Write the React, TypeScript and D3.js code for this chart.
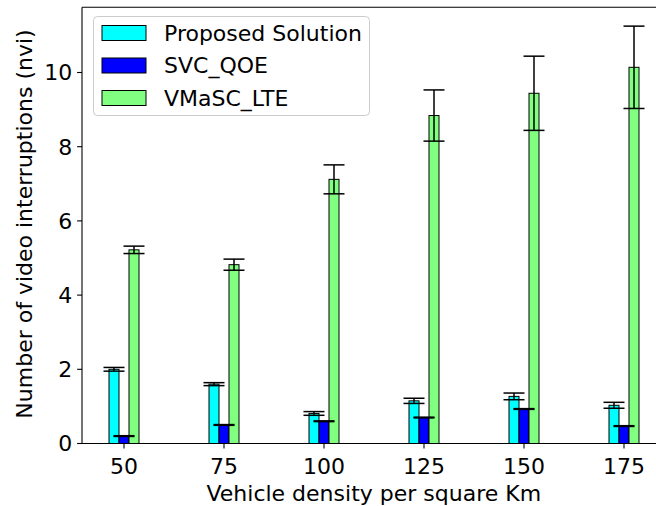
import React from "react";
import * as d3 from "d3";

const categories = [50, 75, 100, 125, 150, 175];
const seriesNames = ["Proposed Solution", "SVC_QOE", "VMaSC_LTE"];
const proposed = [2.0, 1.6, 0.81, 1.15, 1.27, 1.03];
const proposedErr = [0.05, 0.04, 0.05, 0.07, 0.09, 0.08];
const svc = [0.2, 0.5, 0.6, 0.7, 0.93, 0.47];
const svcErr = [0.01, 0.01, 0.01, 0.01, 0.01, 0.01];
const vmasc = [5.22, 4.82, 7.12, 8.84, 9.44, 10.14];
const vmascErr = [0.1, 0.15, 0.39, 0.69, 1.0, 1.11];
const yTicks = [0, 2, 4, 6, 8, 10];
const colors = ["#00ffff", "#0000ff", "#80ff80"];

const W = 656;
const H = 506;
const FONT = "DejaVu Sans, sans-serif";
const FS = 22;

export default function App() {
  const x = d3.scaleLinear().domain([39.5, 185.4]).range([82, 665.6]);
  const y = d3.scaleLinear().domain([0, 11.76]).range([443.5, 7.2]);
  const barW = 2.5;
  const offsets = [-2.5, 0, 2.5];
  const values = [proposed, svc, vmasc];
  const errs = [proposedErr, svcErr, vmascErr];
  const cap = 10.5;
  const left = 82;

  const bars: JSX.Element[] = [];
  const errBars: JSX.Element[] = [];
  values.forEach((vals, s) => {
    vals.forEach((v, i) => {
      const cx = categories[i] + offsets[s];
      const x0 = x(cx - barW / 2);
      const x1 = x(cx + barW / 2);
      bars.push(
        <rect
          key={`b${s}-${i}`}
          x={x0}
          y={y(v)}
          width={x1 - x0}
          height={y(0) - y(v)}
          fill={colors[s]}
          stroke="#000"
          strokeWidth={1}
        />
      );
      const px = x(cx);
      const e = errs[s][i];
      const yt = y(v + e);
      const yb = y(v - e);
      errBars.push(
        <g key={`e${s}-${i}`} stroke="#000" strokeWidth={1.5}>
          <line x1={px} x2={px} y1={yt} y2={yb} />
          <line x1={px - cap} x2={px + cap} y1={yt} y2={yt} />
          <line x1={px - cap} x2={px + cap} y1={yb} y2={yb} />
        </g>
      );
    });
  });

  const legX = 93.5;
  const legY = 16.5;
  const rowYs = [33, 65.5, 98];

  return (
    <svg
      width={W}
      height={H}
      style={{ position: "absolute", left: 0, top: 0, background: "#fff" }}
      fontFamily={FONT}
    >
      <rect x={0} y={0} width={W} height={H} fill="#fff" />
      {bars}
      {errBars}
      <line x1={left} x2={left} y1={y(11.76)} y2={y(0)} stroke="#000" strokeWidth={1.1} />
      <line x1={left} x2={W} y1={y(0)} y2={y(0)} stroke="#000" strokeWidth={1.1} />
      <line x1={left} x2={W} y1={y(11.76)} y2={y(11.76)} stroke="#000" strokeWidth={1.1} />
      {yTicks.map((t) => (
        <g key={`yt${t}`}>
          <line x1={left} x2={left - 4.9} y1={y(t)} y2={y(t)} stroke="#000" strokeWidth={1.1} />
          <text x={72.3} y={y(t)} dy="0.36em" textAnchor="end" fontSize={FS} fill="#000">
            {t}
          </text>
        </g>
      ))}
      {categories.map((c) => (
        <g key={`xt${c}`}>
          <line x1={x(c)} x2={x(c)} y1={y(0)} y2={y(0) + 4.9} stroke="#000" strokeWidth={1.1} />
          <text x={x(c)} y={474} textAnchor="middle" fontSize={FS} fill="#000">
            {c}
          </text>
        </g>
      ))}
      <text x={373.8} y={501} textAnchor="middle" fontSize={FS} fill="#000">
        Vehicle density per square Km
      </text>
      <text
        transform={`translate(32,224) rotate(-90)`}
        textAnchor="middle"
        fontSize={FS}
        fill="#000"
      >
        Number of video interruptions (nvi)
      </text>
      <rect
        x={legX}
        y={legY}
        width={276}
        height={99}
        rx={4}
        fill="#fff"
        fillOpacity={0.8}
        stroke="#cccccc"
        strokeWidth={1}
      />
      {seriesNames.map((n, i) => (
        <g key={`lg${i}`}>
          <rect
            x={102}
            y={rowYs[i] - 7.5}
            width={44}
            height={15}
            fill={colors[i]}
            stroke="#000"
            strokeWidth={1}
          />
          <text x={164} y={rowYs[i]} dy="0.36em" fontSize={FS} fill="#000">
            {n}
          </text>
        </g>
      ))}
    </svg>
  );
}
